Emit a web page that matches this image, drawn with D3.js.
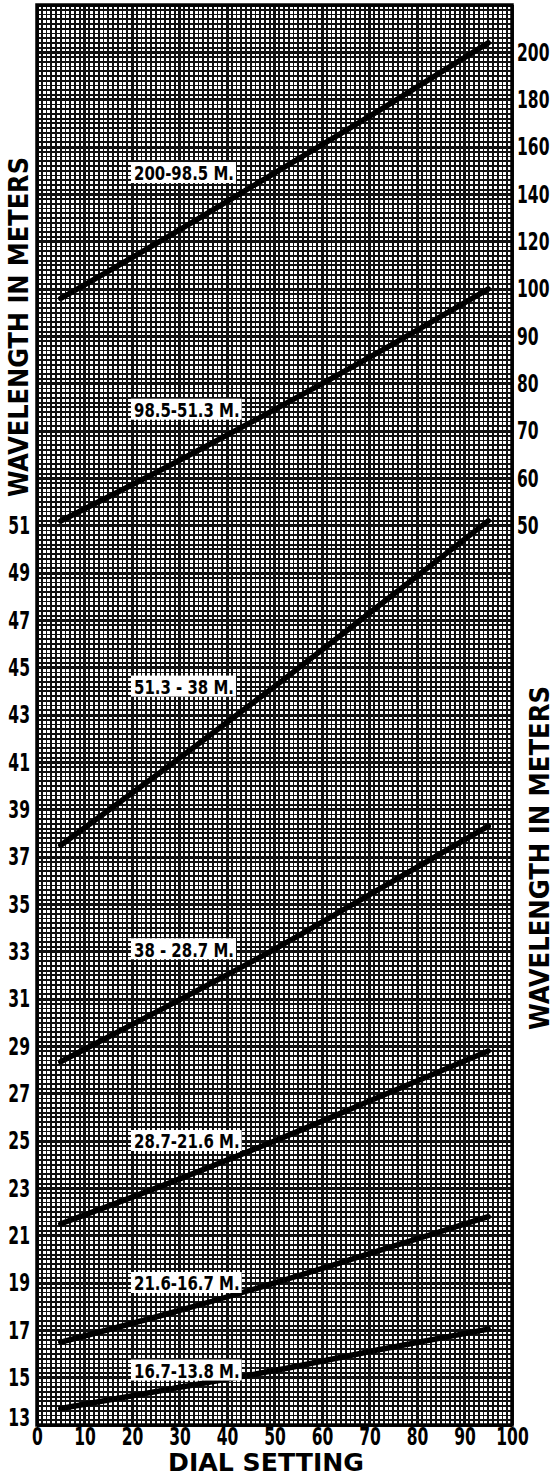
<!DOCTYPE html>
<html>
<head>
<meta charset="utf-8">
<script src="https://cdn.jsdelivr.net/npm/d3@7"></script>
<style>
body { margin: 0; background: #fff; }
text { font-family: "DejaVu Sans Condensed", "DejaVu Sans", sans-serif; }
</style>
</head>
<body>
<script>
// dial positions at which the curves were read
var dialPoints = [5, 27.5, 50, 72.5, 95];

// wavelength (meters) for each coil range
var band200 = [98, 122, 149, 176, 204];
var band98 = [51, 62.5, 74.5, 87, 100];
var band51 = [37.5, 40.8, 44.2, 47.7, 51.2];
var band38 = [28.35, 30.7, 33.1, 35.7, 38.3];
var band28 = [21.5, 23.2, 25.0, 26.9, 28.8];
var band21 = [16.5, 17.7, 19.0, 20.4, 21.8];
var band16 = [13.7, 14.5, 15.3, 16.2, 17.05];

var bandLabels = ["200-98.5 M.", "98.5-51.3 M.", "51.3 - 38 M.", "38 - 28.7 M.",
                  "28.7-21.6 M.", "21.6-16.7 M.", "16.7-13.8 M."];
var bandAxis = ["right", "right", "left", "left", "left", "left", "left"];

var dialTicks = [0, 10, 20, 30, 40, 50, 60, 70, 80, 90, 100];
var leftTicks = [13, 15, 17, 19, 21, 23, 25, 27, 29, 31, 33, 35, 37, 39, 41, 43, 45, 47, 49, 51];
var rightTicks = [50, 60, 70, 80, 90, 100, 120, 140, 160, 180, 200];

function render() {
  var margin = {top: 5, right: 44, bottom: 53, left: 37},
      width = 556 - margin.left - margin.right,
      height = 1478 - margin.top - margin.bottom;

  var x = d3.scaleLinear().domain([0, 100]).range([0, width]);
  // graph paper: 30 heavy divisions up the sheet
  var yDiv = d3.scaleLinear().domain([0, 30]).range([height, 0]);
  var yLeft = d3.scaleLinear().domain([13, 51]).range([yDiv(0), yDiv(19)]);
  var yRight = d3.scaleLinear().domain([50, 100, 220]).range([yDiv(19), yDiv(24), yDiv(30)]);

  var svg = d3.select("body").append("svg")
      .attr("width", 556)
      .attr("height", 1478);
  var g = svg.append("g")
      .attr("transform", "translate(" + margin.left + "," + margin.top + ")");

  // grid
  var grid = g.append("g").attr("shape-rendering", "crispEdges").attr("stroke", "#111");
  grid.selectAll(".vx").data(d3.range(0, 101)).join("line")
      .attr("x1", function(d) { return x(d); })
      .attr("x2", function(d) { return x(d); })
      .attr("y1", 0).attr("y2", height)
      .attr("stroke-width", function(d) { return d % 10 === 0 ? 3 : 1.8; });
  grid.selectAll(".hy").data(d3.range(0, 301)).join("line")
      .attr("y1", function(d) { return yDiv(d / 10); })
      .attr("y2", function(d) { return yDiv(d / 10); })
      .attr("x1", 0).attr("x2", width)
      .attr("stroke-width", function(d) { return d % 10 === 0 ? 3 : 1.8; });

  g.append("rect")
      .attr("width", width).attr("height", height)
      .attr("fill", "none").attr("stroke", "#000").attr("stroke-width", 3.5);

  var series = [band200, band98, band51, band38, band28, band21, band16].map(function(v, i) {
    return {label: bandLabels[i], scale: bandAxis[i] === "left" ? yLeft : yRight, values: v};
  });

  series.forEach(function(s) {
    var line = d3.line()
        .x(function(d, i) { return x(dialPoints[i]); })
        .y(function(d) { return s.scale(d); })
        .curve(d3.curveMonotoneX);
    g.append("path")
        .datum(s.values)
        .attr("d", line)
        .attr("fill", "none")
        .attr("stroke", "#000")
        .attr("stroke-width", 5.5)
        .attr("stroke-linecap", "round");

    // range label sits at the dial-20 line, level with the curve's midpoint
    var lab = g.append("g")
        .attr("transform", "translate(" + x(20) + "," + s.scale(s.values[2]) + ")");
    var rect = lab.append("rect").attr("fill", "#fff");
    var t = lab.append("text")
        .attr("x", 2)
        .attr("dy", "0.36em")
        .attr("font-size", 20)
        .attr("font-weight", "bold")
        .text(s.label);
    var w = t.node().getComputedTextLength() * 0.83;
    t.attr("textLength", w).attr("lengthAdjust", "spacingAndGlyphs");
    rect.attr("x", -1).attr("y", -11).attr("width", w + 5).attr("height", 21);
  });

  // narrow, tall figures like the printed scale
  function styleAxis(sel) {
    sel.select(".domain").remove();
    sel.selectAll("text")
        .attr("font-size", 24)
        .attr("font-weight", "bold")
        .attr("fill", "#000")
        .attr("font-family", "DejaVu Sans Condensed")
        .each(function() {
          var t = d3.select(this);
          var tx = +t.attr("x") || 0;
          t.attr("x", 0).attr("transform", "translate(" + tx + ",0) scale(0.72,1)");
        });
  }

  var left = g.append("g")
      .call(d3.axisLeft(yLeft).tickValues(leftTicks).tickSize(0).tickPadding(7))
      .call(styleAxis);
  left.selectAll(".tick").filter(function(d) { return d === 13; })
      .attr("transform", "translate(0," + (yLeft(13) - 7) + ")");
  g.append("g")
      .attr("transform", "translate(" + width + ",0)")
      .call(d3.axisRight(yRight).tickValues(rightTicks).tickSize(0).tickPadding(5))
      .call(styleAxis);
  g.append("g")
      .attr("transform", "translate(0," + height + ")")
      .call(d3.axisBottom(x).tickValues(dialTicks).tickSize(0).tickPadding(3))
      .call(styleAxis);

  // titles
  svg.append("text")
      .attr("transform", "translate(28,327) rotate(-90)")
      .attr("text-anchor", "middle")
      .attr("font-size", 27)
      .attr("font-weight", "bold")
      .attr("textLength", 340)
      .attr("lengthAdjust", "spacingAndGlyphs")
      .text("WAVELENGTH IN METERS");
  svg.append("text")
      .attr("transform", "translate(549,858) rotate(-90)")
      .attr("text-anchor", "middle")
      .attr("font-size", 27)
      .attr("font-weight", "bold")
      .attr("textLength", 344)
      .attr("lengthAdjust", "spacingAndGlyphs")
      .text("WAVELENGTH IN METERS");
  svg.append("text")
      .attr("x", 266)
      .attr("y", 1471)
      .attr("text-anchor", "middle")
      .attr("font-size", 25)
      .attr("font-weight", "bold")
      .attr("textLength", 196)
      .attr("lengthAdjust", "spacingAndGlyphs")
      .text("DIAL SETTING");
}
render();
</script>
</body>
</html>
